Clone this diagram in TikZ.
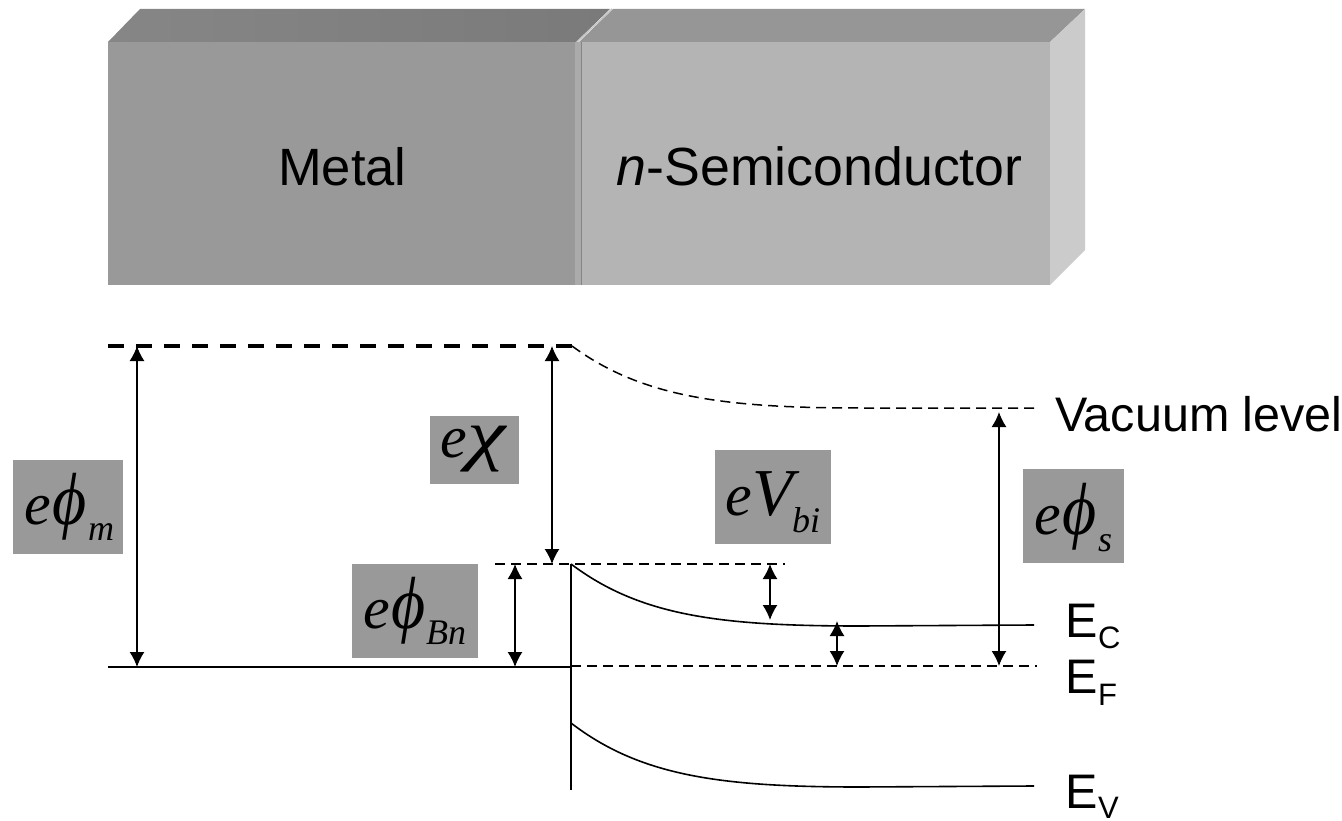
\documentclass[tikz,border=0pt]{standalone}
\usepackage{fontspec}
\setmainfont{Liberation Sans}
\newfontfamily\symfont{Liberation Serif}[ItalicFont=* Italic]
\usetikzlibrary{arrows.meta}
\newcommand{\eletter}{{\symfont\itshape\fontsize{60}{60}\selectfont e}}
\newcommand{\philetter}{{\symfont\itshape\fontsize{66}{66}\selectfont\kern2pt\scalebox{1}[1.12]{ϕ}}}
\newcommand{\chiletter}{{\symfont\itshape\fontsize{60}{60}\selectfont\kern1pt\scalebox{1.45}[1.14]{χ}}}
\newcommand{\Vletter}{{\symfont\itshape\fontsize{67}{67}\selectfont\kern1pt V}}
\newcommand{\mathsubs}[1]{{\symfont\itshape\fontsize{36}{36}\selectfont #1}}
\definecolor{metalfront}{HTML}{999999}
\definecolor{metaltopa}{HTML}{868686}
\definecolor{metaltopb}{HTML}{7A7A7A}
\definecolor{semifront}{HTML}{B4B4B4}
\definecolor{semitop}{HTML}{969696}
\definecolor{semiright}{HTML}{CBCBCB}
\definecolor{seamgray}{HTML}{ABABAB}
\definecolor{seamdark}{HTML}{858585}
\definecolor{seamlight}{HTML}{C4C4C4}
\tikzset{
  x=1pt,y=-1pt,
  bigtext/.style={anchor=base west,inner sep=0pt,text=black},
  leveltext/.style={font=\fontsize{48.5}{48.5}\selectfont,anchor=base west,inner sep=0pt},
  subtext/.style={font=\fontsize{31}{31}\selectfont,anchor=base west,inner sep=0pt},
  mathtext/.style={anchor=base west,inner sep=0pt},
  labelbox/.style={fill=metalfront},
  dimarrow/.style={line width=1.5pt,{Latex[length=15pt,width=15pt]}-{Latex[length=15pt,width=15pt]}},
  solidlevel/.style={line width=1.6pt},
  thinlevel/.style={line width=1.5pt,dash pattern=on 10pt off 6pt},
  thicklevel/.style={line width=3.6pt,dash pattern=on 16pt off 12pt},
}
\begin{document}
\begin{tikzpicture}
\useasboundingbox (0,0) rectangle (1342,821);
% block
\shade[left color=metaltopa,right color=metaltopb] (108,42) -- (140,9) -- (610,9) -- (576,42) -- cycle;
\fill[semitop] (579,42) -- (613,9) -- (1085,9) -- (1050,42) -- cycle;
\draw[seamlight,line width=1.5pt] (577,42) -- (612,9);
\fill[metalfront] (108,42) rectangle (575,285);
\fill[seamgray] (575,42) rectangle (581,285);
\fill[seamdark] (580.5,42) rectangle (582,285);
\fill[semifront] (582,42) rectangle (1050,285);
\fill[semiright] (1050,42) -- (1085,9) -- (1085,250) -- (1050,285) -- cycle;
\node[bigtext,font=\fontsize{52.5}{52.5}\selectfont] (metal) at (278,186) {Metal};
\node[bigtext,font=\fontsize{53.7}{53.7}\selectfont] (semi) at (616.5,186) {\textit{n}-Semiconductor};
% level coordinates
\coordinate (vacL) at (108,346);
\coordinate (vacK) at (572,346);
\coordinate (vacR) at (1037,408);
\coordinate (barL) at (495,564);
\coordinate (barR) at (785,564);
\coordinate (jTop) at (571,564);
\coordinate (jBot) at (571,790);
\coordinate (mfL) at (108,667);
\coordinate (mfR) at (571,667);
\coordinate (efL) at (571,666);
\coordinate (efR) at (1037,666);
\coordinate (ecR) at (1034,625);
\coordinate (evL) at (571,723);
\coordinate (evR) at (1034,786);
% levels
\draw[thicklevel] (vacL) -- (vacK);
\draw[thinlevel] (vacK) .. controls (640,396) and (720,408) .. (860,408) -- (vacR);
\draw[thinlevel] (barL) -- (barR);
\draw[solidlevel] (jTop) -- (jBot);
\draw[solidlevel] (mfL) -- (mfR);
\draw[thinlevel] (efL) -- (efR);
\draw[solidlevel] (jTop) .. controls (640,616) and (720,626) .. (860,626) -- (ecR);
\draw[solidlevel] (evL) .. controls (640,776) and (720,787) .. (860,787) -- (evR);
% dimension arrows
\coordinate (a1t) at (137,346); \coordinate (a1b) at (137,667);
\coordinate (a2t) at (552,346); \coordinate (a2b) at (552,564);
\coordinate (a3t) at (515,564); \coordinate (a3b) at (515,667);
\coordinate (a4t) at (770,564); \coordinate (a4b) at (770,620);
\coordinate (a5t) at (837,621); \coordinate (a5b) at (837,666);
\coordinate (a6t) at (999,412); \coordinate (a6b) at (999,666);
\draw[dimarrow] (a1t) -- (a1b);
\draw[dimarrow] (a2t) -- (a2b);
\draw[dimarrow] (a3t) -- (a3b);
\draw[dimarrow] (a4t) -- (a4b);
\draw[dimarrow] (a5t) -- (a5b);
\draw[dimarrow] (a6t) -- (a6b);
% label boxes
\fill[labelbox] (13,460) rectangle (123,554);
\fill[labelbox] (430,416) rectangle (519,484);
\fill[labelbox] (352,564) rectangle (478,658);
\fill[labelbox] (715,450) rectangle (831,544);
\fill[labelbox] (1023,469) rectangle (1124,563);
% math labels
\node[mathtext] (phime) at (24,524) {\eletter\philetter};
\node[mathtext] (phims) at (88,540) {\mathsubs{m}};
\node[mathtext] (chi) at (440,457) {\eletter\chiletter};
\node[mathtext] (phibe) at (363,628) {\eletter\philetter};
\node[mathtext] (phibs) at (426,644) {\mathsubs{Bn}};
\node[mathtext] (vbie) at (725,515) {\eletter\Vletter};
\node[mathtext] (vbis) at (792,532) {\mathsubs{bi}};
\node[mathtext] (phise) at (1034,534) {\eletter\philetter};
\node[mathtext] (phiss) at (1098,551) {\mathsubs{s}};
% level labels
\node[leveltext] (vac) at (1055,431) {Vacuum level};
\node[leveltext] (ec) at (1065,637) {E};
\node[subtext] (ecs) at (1098,648) {C};
\node[leveltext] (ef) at (1065,693) {E};
\node[subtext] (efs) at (1098,705) {F};
\node[leveltext] (ev) at (1065,808) {E};
\node[subtext] (evs) at (1098,818) {V};
\end{tikzpicture}
\end{document}
